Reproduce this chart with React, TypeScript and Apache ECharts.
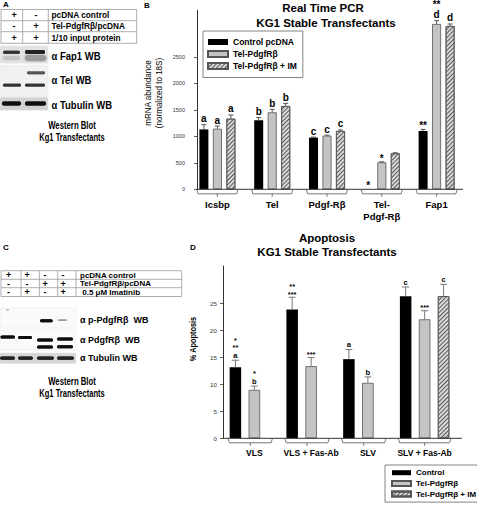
import React, { useEffect, useRef } from 'react';
import * as echarts from 'echarts';

const FONT = '"Liberation Sans", Arial, Helvetica, sans-serif';

// ---------- Panel B : Real Time PCR ----------
const pcrCategories = ['Icsbp', 'Tel', 'Pdgf-Rβ', 'Tel-\nPdgf-Rβ', 'Fap1'];
const pcrSeriesNames = ['Control pcDNA', 'Tel-PdgfRβ', 'Tel-PdgfRβ + IM'];
const pcrControl = [1130, 1305, 975, 0, 1100];
const pcrControlErr = [90, 50, 10, 0, 30];
const pcrTel = [1143, 1452, 1011, 509, 3119];
const pcrTelErr = [50, 57, 10, 10, 62];
const pcrTelIM = [1332, 1571, 1100, 679, 3081];
const pcrTelIMErr = [70, 50, 20, 10, 38];
const pcrControlMarks = ['a', 'b', 'c', '*', '**'];
const pcrTelMarks = ['a', 'b', 'c', '*', '**\nd'];
const pcrTelIMMarks = ['a', 'b', 'c', '', 'd'];
const pcrTicks = [0, 500, 1000, 1500, 2000, 2500, 3000];

// ---------- Panel D : Apoptosis ----------
const apoCategories = ['VLS', 'VLS + Fas-Ab', 'SLV', 'SLV + Fas-Ab'];
const apoSeriesNames = ['Control', 'Tel-PdgfRβ', 'Tel-PdgfRβ + IM'];
const apoControl = [13.2, 23.9, 14.7, 26.4];
const apoControlErr = [1.3, 2.3, 1.8, 1.7];
const apoTel = [9.0, 13.4, 10.3, 22.1];
const apoTelErr = [0.7, 1.6, 1.1, 1.6];
const apoTelIM: (number | null)[] = [null, null, null, 26.4];
const apoTelIMErr = [0, 0, 0, 2.2];
const apoControlMarks = ['*\n**\na', '**\n***', 'a', 'c'];
const apoTelMarks = ['*\nb', '***', 'b', '***'];
const apoTelIMMarks = ['', '', '', 'c'];
const apoTicks = [0, 5, 10, 15, 20, 25, 30];

// ---------- Panels A / C : western blot tables ----------
const blotATable = [
  ['+', '-', 'pcDNA control'],
  ['-', '+', 'Tel-PdgfRβ/pcDNA'],
  ['+', '+', '1/10 input protein'],
];
const blotALabels = ['α Fap1 WB', 'α Tel WB', 'α Tubulin WB'];
const blotCTable = [
  ['+', '+', '-', '-', 'pcDNA control'],
  ['-', '-', '+', '+', 'Tel-PdgfRβ/pcDNA'],
  ['-', '+', '-', '+', ' 0.5 μM Imatinib'],
];
const blotCLabels = ['α p-PdgfRβ  WB', 'α PdgfRβ  WB', 'α Tubulin WB'];

// ---------- styles ----------
const BAR_FILL = ['#000000', '#c4c4c4', '#d8d8d8'];
const BAR_BORDER = ['#000000', '#555555', '#555555'];
const HATCH = {
  symbol: 'rect',
  symbolSize: 1,
  dashArrayX: [1, 0],
  dashArrayY: [1, 1.6],
  rotation: -Math.PI / 4,
  color: '#5a5a5a',
};
const B_BAR_W = 9;
const B_GAP = 0.5;
const D_BAR_W = 11.5;
const D_GAP = 0.65;
const B_AXIS_INSET = 7;
const D_AXIS_OUTSET = 3;

function barSeries(names: string[], values: any[][], gi: number, bw: number, gap: number) {
  return values.map((vals, k) => ({
    type: 'bar',
    name: names[k],
    xAxisIndex: gi,
    yAxisIndex: gi,
    data: vals.map((v: any) => (v == null ? '-' : v)),
    barWidth: bw,
    barGap: `${gap * 100}%`,
    silent: true,
    z: 2,
    emphasis: { disabled: true },
    itemStyle: {
      color: BAR_FILL[k],
      borderColor: BAR_BORDER[k],
      borderWidth: k === 0 ? 0 : 0.8,
      ...(k === 2 ? { decal: HATCH } : {}),
    },
  }));
}

function errorSeries(
  id: string,
  values: any[],
  errs: number[],
  marks: string[],
  slot: number,
  gi: number,
  spacing: number,
  cfg: { cap: number; color: string; size: number; gap: number; lh: number }
) {
  return {
    type: 'custom',
    name: id,
    xAxisIndex: gi,
    yAxisIndex: gi,
    silent: true,
    clip: false,
    z: 5,
    itemStyle: { color: '#000000' },
    data: values.map((v: any, i: number) => [i, v == null ? 0 : v]),
    renderItem: (params: any, api: any) => {
      const i = params.dataIndex;
      const v = values[i];
      if (v == null) return { type: 'group', children: [] };
      const e = errs[i];
      const base = api.coord([i, v]);
      const top = api.coord([i, v + e]);
      const x = base[0] + (slot - 1) * spacing;
      const kids: any[] = [];
      if (e > 0) {
        kids.push({ type: 'line', shape: { x1: x, y1: base[1], x2: x, y2: top[1] }, style: { stroke: cfg.color, lineWidth: 1 } });
        kids.push({ type: 'line', shape: { x1: x - cfg.cap, y1: top[1], x2: x + cfg.cap, y2: top[1] }, style: { stroke: cfg.color, lineWidth: 1 } });
      }
      const mark = marks[i] || '';
      if (mark) {
        const lines = mark.split('\n');
        const bottomStar = lines[lines.length - 1].charAt(0) === '*';
        kids.push({
          type: 'text',
          style: {
            text: mark,
            x,
            y: top[1] - cfg.gap + (bottomStar ? cfg.size * 0.25 : 0),
            align: 'center',
            verticalAlign: 'bottom',
            fontSize: cfg.size,
            lineHeight: cfg.lh,
            fontWeight: 'bold',
            fontFamily: FONT,
            fill: '#000000',
            stroke: 'none',
          },
        });
      }
      return { type: 'group', children: kids };
    },
  };
}

function bracketSeries(
  id: string,
  count: number,
  gi: number,
  extent: (i: number, cx: number) => [number, number],
  lineFrom: (cs: any) => number,
  lineTo: (cs: any) => number
) {
  const data: number[][] = [];
  for (let i = 0; i < count; i++) data.push([i, 0]);
  return {
    type: 'custom',
    name: id,
    xAxisIndex: gi,
    yAxisIndex: gi,
    silent: true,
    clip: false,
    z: 3,
    itemStyle: { color: '#555555' },
    data,
    renderItem: (params: any, api: any) => {
      const i = params.dataIndex;
      const c = api.coord([i, 0]);
      const cs = params.coordSys;
      const [l, r] = extent(i, c[0]);
      const yb = c[1] + 4.5;
      const m = (l + r) / 2;
      const kids: any[] = [
        {
          type: 'polyline',
          shape: { points: [[l, c[1] + 0.5], [l + 1.2, yb], [r - 1.2, yb], [r, c[1] + 0.5]] },
          style: { stroke: '#555', lineWidth: 0.8, fill: 'none' },
        },
        { type: 'line', shape: { x1: m, y1: yb, x2: m, y2: yb + 3 }, style: { stroke: '#555', lineWidth: 0.8 } },
      ];
      if (i === 0) {
        kids.push({
          type: 'line',
          shape: { x1: lineFrom(cs), y1: c[1], x2: lineTo(cs), y2: c[1] },
          style: { stroke: '#333', lineWidth: 1 },
        });
      }
      return { type: 'group', children: kids };
    },
  };
}

function txt(text: string, x: number, y: number, size: number, o: any = {}) {
  return {
    type: 'text',
    x,
    y,
    rotation: o.rotation || 0,
    scaleX: o.scaleX || 1,
    silent: true,
    style: {
      text,
      x: 0,
      y: 0,
      align: o.align || 'center',
      verticalAlign: 'middle',
      fontSize: size,
      fontWeight: o.weight || 'bold',
      fontFamily: FONT,
      fill: o.fill || '#000',
    },
  };
}

function hline(x1: number, x2: number, y: number, color = '#999') {
  return { type: 'line', silent: true, shape: { x1, y1: y, x2, y2: y }, style: { stroke: color, lineWidth: 0.8 } };
}
function vline(x: number, y1: number, y2: number, color = '#999') {
  return { type: 'line', silent: true, shape: { x1: x, y1, x2: x, y2 }, style: { stroke: color, lineWidth: 0.8 } };
}
function band(x: number, y: number, w: number, h: number, fill: string, blur = 1.5) {
  return {
    type: 'rect',
    silent: true,
    shape: { x, y, width: w, height: h, r: h / 2 },
    style: { fill, shadowBlur: blur, shadowColor: fill },
  };
}
function panelBg(x: number, y: number, w: number, h: number, fill: string) {
  return { type: 'rect', silent: true, shape: { x, y, width: w, height: h }, style: { fill, stroke: '#e6e6e6', lineWidth: 0.5 } };
}

function buildGraphic() {
  const g: any[] = [];
  // panel letters
  g.push(txt('A', 6, 4, 8));
  g.push(txt('B', 147, 5, 8));
  g.push(txt('C', 6, 247, 8));
  g.push(txt('D', 193, 247, 8));

  // ---- Panel A table ----
  const aRows = [9.5, 20.7, 31.7, 43.3];
  aRows.forEach((y) => g.push(hline(1, 136.7, y)));
  [1, 22.7, 48.3, 136.7].forEach((x) => g.push(vline(x, 9.5, 43.3)));
  const aSignX = [14, 36];
  blotATable.forEach((row, r) => {
    const cy = (aRows[r] + aRows[r + 1]) / 2;
    g.push(txt(row[0], aSignX[0], cy, 9));
    g.push(txt(row[1], aSignX[1], cy, 9));
    g.push(txt(row[2], 51.5, cy, 8.3, { align: 'left' }));
  });
  // blots A
  g.push(panelBg(0, 46, 48, 17.3, '#e2e2e2'));
  g.push(band(3, 56, 17, 4, '#c4c4c4', 2));
  g.push(band(25, 55, 21, 6, '#9a9a9a', 2));
  g.push(band(3, 50.8, 17, 3, '#333'));
  g.push(band(25, 50, 20, 4, '#222'));
  g.push(panelBg(0, 65, 48, 31.5, '#f1f1f1'));
  g.push(band(27, 71.5, 18, 2.8, '#555'));
  g.push(band(3, 83.8, 18, 2.8, '#333'));
  g.push(band(25, 83.8, 20, 2.8, '#333'));
  g.push(panelBg(0, 97.2, 48, 13, '#d2d2d2'));
  g.push(band(2, 101.6, 19, 3.8, '#111'));
  g.push(band(25, 101.6, 21, 3.8, '#111'));
  const aLabY = [56, 80, 105];
  blotALabels.forEach((t, i) => g.push(txt(t, 51.5, aLabY[i], 10, { align: 'left', scaleX: 0.95 })));
  g.push(txt('Western Blot', 72, 126, 10.5, { scaleX: 0.74 }));
  g.push(txt('Kg1 Transfectants', 72, 137.5, 10.5, { scaleX: 0.72 }));

  // ---- Panel C table ----
  const cRows = [270.7, 279.3, 287.7, 296.5];
  cRows.forEach((y) => g.push(hline(1, 181.7, y)));
  [1, 21, 39.3, 57.7, 76, 181.7].forEach((x) => g.push(vline(x, 270.7, 296.5)));
  const cSignX = [8.5, 27, 45, 63];
  blotCTable.forEach((row, r) => {
    const cy = (cRows[r] + cRows[r + 1]) / 2;
    for (let k = 0; k < 4; k++) g.push(txt(row[k], cSignX[k], cy, 9));
    g.push(txt(row[4], 80, cy, 8, { align: 'left' }));
  });
  // blots C
  g.push(panelBg(0, 308, 76, 20, '#fafafa'));
  g.push(band(6, 309.3, 3, 1.2, '#bbb', 1));
  g.push(band(40, 319.3, 12.7, 3, '#111'));
  g.push(band(58, 319.4, 9, 1.4, '#999', 1));
  g.push(panelBg(0, 330, 76, 20, '#fafafa'));
  g.push(band(0.5, 335.6, 14.5, 3, '#111'));
  g.push(band(18, 336, 14, 3, '#111'));
  g.push(band(37, 338.6, 16, 3, '#111'));
  g.push(band(57, 337.6, 16, 3, '#111'));
  g.push(band(37, 345.6, 16, 3, '#111'));
  g.push(band(57, 345.2, 16, 3, '#111'));
  g.push(panelBg(0, 353, 76, 10.5, '#d6d6d6'));
  [[0, 15], [18, 15], [37, 17], [57, 17]].forEach(([x, w]) => g.push(band(x, 356.4, w, 3.4, '#222')));
  const cLabY = [320, 340, 358.3];
  blotCLabels.forEach((t, i) => g.push(txt(t, 80, cLabY[i], 9.5, { align: 'left', scaleX: 0.95 })));
  g.push(txt('Western Blot', 72, 381.5, 10.5, { scaleX: 0.74 }));
  g.push(txt('Kg1 Transfectants', 72, 393.5, 10.5, { scaleX: 0.72 }));

  // ---- titles and axis names ----
  g.push(txt('Real Time PCR', 323, 8, 11.5));
  g.push(txt('KG1 Stable Transfectants', 326, 22.7, 11.5));
  g.push(txt('mRNA abundance', 147.5, 93, 9.5, { rotation: Math.PI / 2, scaleX: 0.85, weight: 'normal' }));
  g.push(txt('(normalized to 18S)', 158.5, 93, 9.5, { rotation: Math.PI / 2, scaleX: 0.85, weight: 'normal' }));
  g.push(txt('Apoptosis', 327, 238.3, 11.5));
  g.push(txt('KG1 Stable Transfectants', 327, 251.5, 11.5));
  g.push(txt('% Apoptosis', 193, 339, 9, { rotation: Math.PI / 2, scaleX: 0.82 }));
  return g;
}

function buildOption() {
  const bSpacing = B_BAR_W * (1 + B_GAP);
  const dSpacing = D_BAR_W * (1 + D_GAP);
  const bCfg = { cap: 2.5, color: '#555', size: 10, gap: 1, lh: 10 };
  const dCfg = { cap: 3.5, color: '#777', size: 7.5, gap: 1, lh: 7.5 };

  const yAxisCommon = (ticks: number[], size: number, margin: number) => ({
    type: 'value',
    splitLine: { show: false },
    axisLine: { show: true, lineStyle: { color: '#333', width: 1 } },
    axisTick: { show: true, length: 3, customValues: ticks, lineStyle: { color: '#333', width: 0.8 } },
    axisLabel: {
      customValues: ticks,
      showMaxLabel: false,
      fontSize: size,
      color: '#333',
      margin,
      fontFamily: FONT,
      formatter: (v: number) => String(v),
    },
  });

  return {
    animation: false,
    backgroundColor: '#ffffff',
    grid: [
      { left: 190, top: 10.4, width: 274, height: 178.9, outerBoundsMode: 'none', containLabel: false },
      { left: 226, top: 266, width: 227, height: 172.3, outerBoundsMode: 'none', containLabel: false },
    ],
    xAxis: [
      {
        gridIndex: 0,
        type: 'category',
        data: pcrCategories,
        axisLine: { show: false },
        axisTick: { show: false },
        axisLabel: { interval: 0, fontSize: 9.5, fontWeight: 'bold', color: '#000', margin: 9, lineHeight: 12, fontFamily: FONT },
      },
      {
        gridIndex: 1,
        type: 'category',
        data: apoCategories,
        axisLine: { show: false },
        axisTick: { show: false },
        axisLabel: { interval: 0, fontSize: 8.5, fontWeight: 'bold', color: '#000', margin: 9.5, lineHeight: 10, fontFamily: FONT },
      },
    ],
    yAxis: [
      { gridIndex: 0, min: 0, max: 3375, interval: 500, offset: -B_AXIS_INSET, ...yAxisCommon(pcrTicks, 5.5, 12) },
      { gridIndex: 1, min: 0, max: 32, interval: 5, offset: D_AXIS_OUTSET, ...yAxisCommon(apoTicks, 6.2, 6) },
    ],
    legend: [
      {
        orient: 'vertical',
        left: 203,
        top: 31,
        data: pcrSeriesNames,
        icon: 'rect',
        itemWidth: 20,
        itemHeight: 6,
        itemGap: 3,
        padding: [6.5, 6, 7, 4],
        borderColor: '#666',
        borderWidth: 0.8,
        selectedMode: false,
        textStyle: { fontSize: 8.5, fontWeight: 'bold', color: '#000', fontFamily: FONT, lineHeight: 8.5 },
      },
      {
        orient: 'vertical',
        left: 385,
        top: 465,
        data: apoSeriesNames,
        icon: 'rect',
        itemWidth: 19,
        itemHeight: 5,
        itemGap: 2.7,
        padding: [3.7, 10, 4, 6],
        borderColor: '#666',
        borderWidth: 0.8,
        selectedMode: false,
        textStyle: { fontSize: 8, fontWeight: 'bold', color: '#000', fontFamily: FONT, lineHeight: 8 },
      },
    ],
    series: [
      ...barSeries(pcrSeriesNames, [pcrControl, pcrTel, pcrTelIM], 0, B_BAR_W, B_GAP),
      ...barSeries(apoSeriesNames, [apoControl, apoTel, apoTelIM], 1, D_BAR_W, D_GAP),
      bracketSeries(
        'bracketB',
        pcrCategories.length,
        0,
        (i, cx) => {
          const h = bSpacing + B_BAR_W / 2 + 2.5;
          return [cx - h, cx + h];
        },
        (cs) => cs.x + B_AXIS_INSET,
        (cs) => cs.x + cs.width - 1
      ),
      bracketSeries(
        'bracketD',
        apoCategories.length,
        1,
        (i, cx) => {
          const l = cx - dSpacing - D_BAR_W / 2 - 1.5;
          const r = apoTelIM[i] != null ? cx + dSpacing + D_BAR_W / 2 + 1.5 : cx + dSpacing - 1;
          return [l, r];
        },
        (cs) => cs.x - D_AXIS_OUTSET,
        (cs) => cs.x + cs.width + 9
      ),
      errorSeries('errB0', pcrControl, pcrControlErr, pcrControlMarks, 0, 0, bSpacing, bCfg),
      errorSeries('errB1', pcrTel, pcrTelErr, pcrTelMarks, 1, 0, bSpacing, bCfg),
      errorSeries('errB2', pcrTelIM, pcrTelIMErr, pcrTelIMMarks, 2, 0, bSpacing, bCfg),
      errorSeries('errD0', apoControl, apoControlErr, apoControlMarks, 0, 1, dSpacing, dCfg),
      errorSeries('errD1', apoTel, apoTelErr, apoTelMarks, 1, 1, dSpacing, dCfg),
      errorSeries('errD2', apoTelIM, apoTelIMErr, apoTelIMMarks, 2, 1, dSpacing, dCfg),
    ],
    graphic: { elements: buildGraphic() },
  };
}

export default function App() {
  const ref = useRef<HTMLDivElement>(null);
  useEffect(() => {
    document.body.style.margin = '0';
    if (!ref.current) return;
    const chart = echarts.init(ref.current, undefined, { renderer: 'svg' });
    chart.setOption(buildOption() as any);
    return () => chart.dispose();
  }, []);
  return <div ref={ref} style={{ width: 477, height: 505, background: '#fff' }} />;
}
